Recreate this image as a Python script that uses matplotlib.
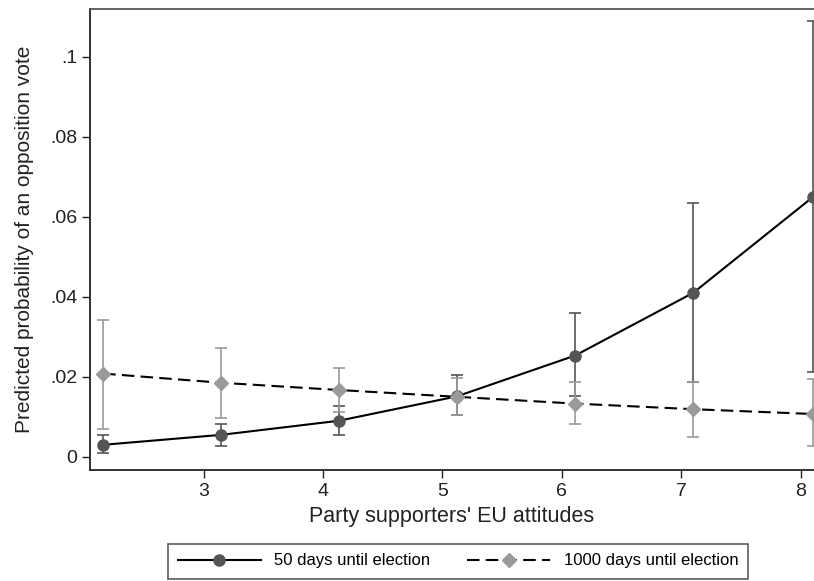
import numpy as np
import matplotlib.pyplot as plt
from matplotlib.ticker import FuncFormatter

# positions des points (attitudes UE)
x_vals = [2.16, 3.15, 4.13, 5.12, 6.11, 7.10, 8.10]

# 50 jours avant l'élection
p50 = [0.0030, 0.0055, 0.0090, 0.0151, 0.0253, 0.0410, 0.0649]
lo50 = [0.0010, 0.0026, 0.0054, 0.0104, 0.0151, 0.0188, 0.0212]
hi50 = [0.0055, 0.0083, 0.0128, 0.0205, 0.0359, 0.0634, 0.1088]

# 1000 jours avant l'élection
p1000 = [0.0208, 0.0185, 0.0167, 0.0150, 0.0133, 0.0119, 0.0107]
lo1000 = [0.0070, 0.0098, 0.0113, 0.0105, 0.0083, 0.0050, 0.0028]
hi1000 = [0.0342, 0.0273, 0.0221, 0.0198, 0.0188, 0.0188, 0.0194]

y_ticks = [0, 0.02, 0.04, 0.06, 0.08, 0.1]
x_ticks = [3, 4, 5, 6, 7, 8]


def fmt(v, pos):
    # style Stata : .02 au lieu de 0.02
    if v == 0:
        return "0"
    return ("%g" % v).lstrip("0")


def main():
    plt.rcParams['font.family'] = ['Liberation Sans', 'DejaVu Sans']
    fig = plt.figure(figsize=(8.14, 5.81), dpi=100)
    ax = fig.add_axes([0.1106, 0.191, 0.8894, 0.7935])

    dark = '#555555'
    light = '#9a9a9a'

    p50_a = np.array(p50)
    p1000_a = np.array(p1000)
    err50 = [p50_a - np.array(lo50), np.array(hi50) - p50_a]
    err1000 = [p1000_a - np.array(lo1000), np.array(hi1000) - p1000_a]

    ax.errorbar(x_vals, p50, yerr=err50, fmt='none', ecolor=dark,
                elinewidth=1.2, capsize=4, capthick=1.2, zorder=2)
    ax.errorbar(x_vals, p1000, yerr=err1000, fmt='none', ecolor=light,
                elinewidth=1.2, capsize=4, capthick=1.2, zorder=2)
    l1, = ax.plot(x_vals, p50, '-', color='black', lw=1.5, marker='o',
                  markersize=8, markerfacecolor=dark, markeredgecolor=dark,
                  zorder=3)
    l2, = ax.plot(x_vals, p1000, '--', color='black', lw=1.5, marker='D',
                  markersize=7.5, markerfacecolor=light, markeredgecolor=light,
                  dashes=(6, 3), zorder=4)

    ax.set_xlim(2.05, 8.11)
    ax.set_ylim(-0.0033, 0.1119)
    ax.set_xticks(x_ticks)
    ax.set_yticks(y_ticks)
    ax.yaxis.set_major_formatter(FuncFormatter(fmt))
    ax.tick_params(direction='out', length=6, width=1, labelsize=14,
                   colors='#222222')
    ax.tick_params(axis='y', pad=3)
    for s in ['left', 'bottom', 'top']:
        ax.spines[s].set_linewidth(1.3)
        ax.spines[s].set_color('#222222')
    ax.spines['top'].set_color('#555555')
    ax.spines['right'].set_visible(False)

    ax.set_xlabel("Party supporters' EU attitudes", fontsize=15.5, color='#222222',
                  labelpad=4)
    ax.set_ylabel("Predicted probability of an opposition vote", fontsize=15,
                  color='#222222', labelpad=12)

    leg = fig.legend([l1, l2], ["50 days until election", "1000 days until election"],
                     loc='center', bbox_to_anchor=(458 / 814, 1 - 561 / 581),
                     ncol=2, fontsize=12, frameon=True, fancybox=False,
                     handlelength=5, columnspacing=2.2, borderpad=0.6,
                     handletextpad=0.8)
    leg.get_frame().set_edgecolor('#333333')
    leg.get_frame().set_linewidth(1.2)

    fig.savefig('out.png', dpi=100)


if __name__ == "__main__":
    main()
